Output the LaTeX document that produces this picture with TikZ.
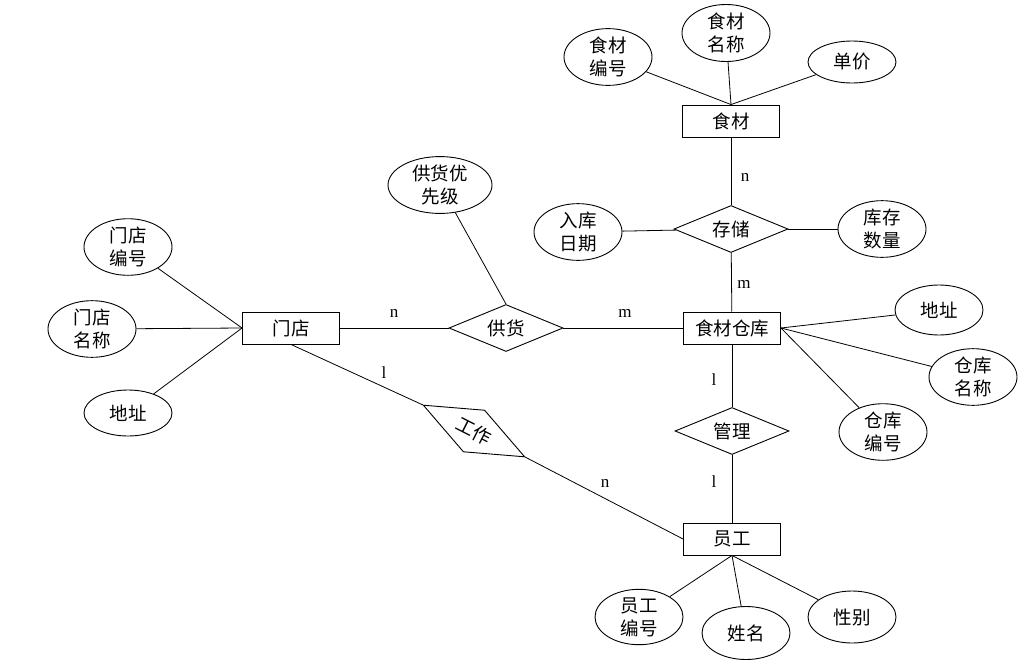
\documentclass[tikz,border=0pt]{standalone}
\usepackage{fontspec}
\setmainfont{Liberation Serif}
\newfontfamily\cjk{Noto Sans CJK SC}
\usetikzlibrary{shapes.geometric}
\tikzset{
  cjkfont/.style={font=\cjk\fontsize{18.5}{23}\selectfont},
  ent/.style={draw, line width=0.9pt, minimum width=97pt, minimum height=32pt, inner sep=0pt, cjkfont},
  rel/.style={draw, diamond, aspect=2.4, line width=0.9pt, minimum width=114pt, minimum height=47pt, inner sep=0pt, cjkfont},
  attr/.style={draw, ellipse, line width=0.9pt, minimum width=88pt, minimum height=52pt, inner sep=0pt, align=center, cjkfont},
  conn/.style={line width=0.8pt},
  card/.style={font=\fontsize{17}{18}\selectfont, inner sep=0pt}
}
\begin{document}
\begin{tikzpicture}[x=1pt,y=-1pt]
\useasboundingbox[fill=white] (0,0) rectangle (1031,670);
% entities
\node[ent] (shicai) at (731,121) {食材};
\node[ent] (cangku) at (732,328) {食材仓库};
\node[ent] (mendian) at (291,328) {门店};
\node[ent] (yuangong) at (732,539) {员工};
% relations
\node[rel] (cunchu) at (731,229) {存储};
\node[rel] (gonghuo) at (506,328) {供货};
\node[rel] (guanli) at (732,431) {管理};
\node[rel, rotate=-27] (gongzuo) at (474,431) {工作};
% attributes of 食材
\node[attr, minimum height=50pt] (scbh) at (608,57) {食材\\编号};
\node[attr, minimum height=57pt] (scmc) at (726,33) {食材\\名称};
\node[attr, minimum height=42pt] (dj) at (852,62) {单价};
% attributes of 存储
\node[attr, minimum height=54pt] (rkrq) at (578,232) {入库\\日期};
\node[attr, minimum height=54pt] (kcsl) at (882,229) {库存\\数量};
% 供货优先级
\node[attr, minimum width=104pt, minimum height=56pt] (ghyxj) at (440,185) {供货优\\先级};
% attributes of 门店
\node[attr, minimum height=50pt] (mdbh) at (128,247) {门店\\编号};
\node[attr, minimum height=48pt] (mdmc) at (92,329) {门店\\名称};
\node[attr, minimum height=46pt] (mddz) at (128,413) {地址};
% attributes of 食材仓库
\node[attr, minimum height=50pt] (ckdz) at (939,310) {地址};
\node[attr, minimum height=51pt] (ckmc) at (973,377) {仓库\\名称};
\node[attr, minimum height=51pt] (ckbh) at (883,432) {仓库\\编号};
% attributes of 员工
\node[attr, minimum height=53pt] (ygbh) at (639,617) {员工\\编号};
\node[attr, minimum height=53pt] (xm) at (746,633) {姓名};
\node[attr, minimum height=52pt] (xb) at (852,617) {性别};
% connectors
\draw[conn] (shicai.north) -- (scbh);
\draw[conn] (shicai.north) -- (scmc);
\draw[conn] (shicai.north) -- (dj);
\draw[conn] (shicai) -- (cunchu);
\draw[conn] (cunchu) -- (cangku);
\draw[conn] (cunchu) -- (rkrq);
\draw[conn] (cunchu) -- (kcsl);
\draw[conn] (mendian) -- (gonghuo);
\draw[conn] (gonghuo) -- (cangku);
\draw[conn] (gonghuo.north) -- (ghyxj);
\draw[conn] (mendian.west) -- (mdbh);
\draw[conn] (mendian.west) -- (mdmc);
\draw[conn] (mendian.west) -- (mddz);
\draw[conn] (cangku.east) -- (ckdz);
\draw[conn] (cangku.east) -- (ckmc);
\draw[conn] (cangku.east) -- (ckbh);
\draw[conn] (cangku) -- (guanli);
\draw[conn] (guanli) -- (yuangong);
\draw[conn] (mendian.south) -- (gongzuo.west);
\draw[conn] (gongzuo.east) -- (yuangong.west);
\draw[conn] (yuangong.south) -- (ygbh);
\draw[conn] (yuangong.south) -- (xm);
\draw[conn] (yuangong.south) -- (xb);
% cardinalities
\node[card] (c1) at (745,177) {n};
\node[card] (c2) at (744,284) {m};
\node[card] (c3) at (394,313) {n};
\node[card] (c4) at (625,313) {m};
\node[card] (c5) at (384,373) {l};
\node[card] (c6) at (605,483) {n};
\node[card] (c7) at (714,380) {l};
\node[card] (c8) at (714,482) {l};
\end{tikzpicture}
\end{document}
